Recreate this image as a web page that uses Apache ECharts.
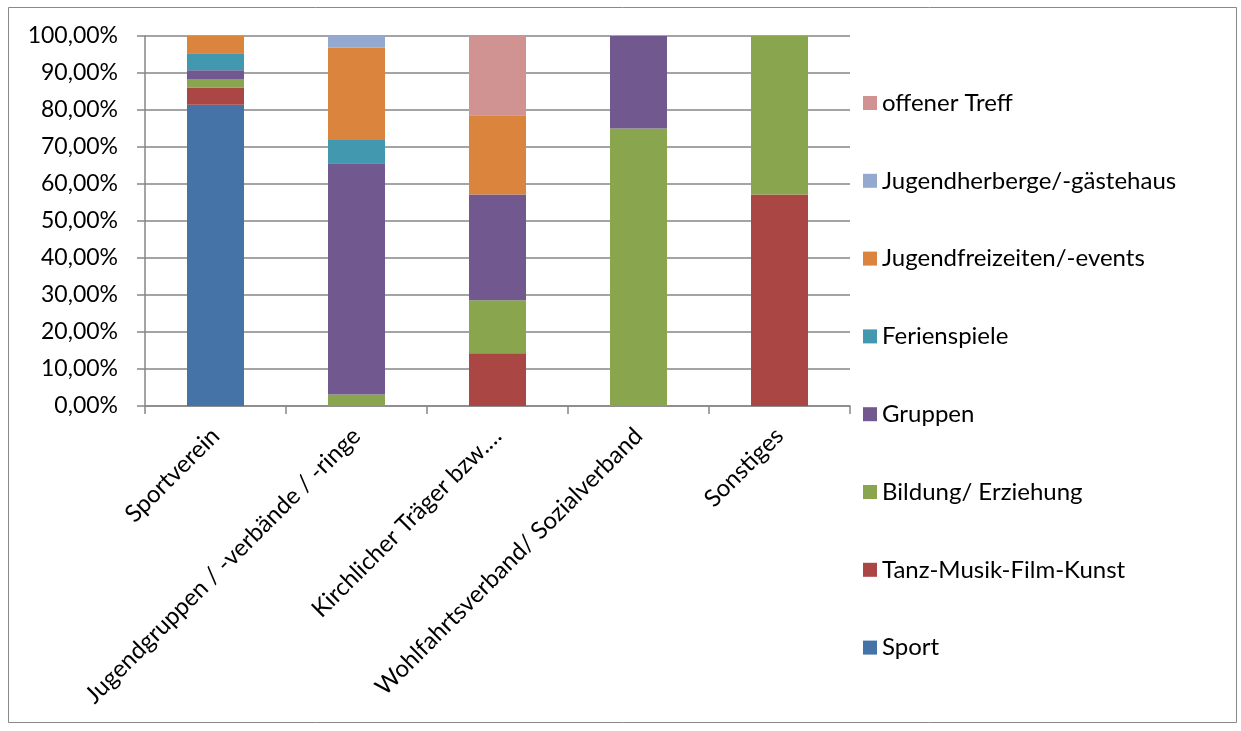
<!DOCTYPE html>
<html><head><meta charset="utf-8">
<script src="https://cdn.jsdelivr.net/npm/echarts@6/dist/echarts.min.js"></script>
<style>html,body{margin:0;padding:0;background:#fff}#c{width:1241px;height:731px}</style>
</head><body><div id="c"></div>
<script>
const categories = ["Sportverein", "Jugendgruppen / -verbände / -ringe", "Kirchlicher Träger bzw.…", "Wohlfahrtsverband/ Sozialverband", "Sonstiges"];
const sport = [81.40, 0, 0, 0, 0];
const tanzMusik = [4.65, 0, 14.29, 0, 57.14];
const bildung = [2.33, 3.125, 14.29, 75.0, 42.86];
const gruppen = [2.33, 62.5, 28.57, 25.0, 0];
const ferienspiele = [4.65, 6.25, 0, 0, 0];
const jugendfreizeiten = [4.65, 25.0, 21.43, 0, 0];
const jugendherberge = [0, 3.125, 0, 0, 0];
const offenerTreff = [0, 0, 21.43, 0, 0];
const yTicks = [0, 10, 20, 30, 40, 50, 60, 70, 80, 90, 100];

const seriesDefs = [
  ["Sport", sport, "#4572A7"],
  ["Tanz-Musik-Film-Kunst", tanzMusik, "#AA4643"],
  ["Bildung/ Erziehung", bildung, "#89A54E"],
  ["Gruppen", gruppen, "#71588F"],
  ["Ferienspiele", ferienspiele, "#4198AF"],
  ["Jugendfreizeiten/-events", jugendfreizeiten, "#DB843D"],
  ["Jugendherberge/-gästehaus", jugendherberge, "#93A9CF"],
  ["offener Treff", offenerTreff, "#D19392"]
];
const FONT = "Lato, 'Open Sans', sans-serif";
const chart = echarts.init(document.getElementById('c'));
chart.setOption({
  animation: false,
  backgroundColor: '#fff',
  graphic: [{type:'rect', shape:{x:8.5,y:7.5,width:1228,height:715}, style:{fill:'none', stroke:'#888', lineWidth:1}, silent:true}],
  grid: {left:145, right:391, top:36, bottom:325, containLabel:false},
  legend: {
    orient:'vertical', left:858, top:86, itemWidth:14, itemHeight:14, itemGap:53.8,
    icon:'rect',
    data: seriesDefs.map(s=>s[0]).reverse(),
    textStyle:{fontFamily:FONT, fontSize:24, lineHeight:24, color:'#000'}
  },
  xAxis: {
    type:'category', data:categories,
    axisLine:{lineStyle:{color:'#868686', width:1.5}},
    axisTick:{show:true, length:8, alignWithLabel:false, lineStyle:{color:'#868686', width:1.5}},
    axisLabel:{rotate:45, fontFamily:FONT, fontSize:24, color:'#000', margin:26, interval:0}
  },
  yAxis: {
    type:'value', min:0, max:100, interval:10,
    axisLine:{show:true, lineStyle:{color:'#868686', width:1.5}},
    axisTick:{show:true, length:8, lineStyle:{color:'#868686', width:1.5}},
    splitLine:{lineStyle:{color:'#868686', width:1.5}},
    axisLabel:{fontFamily:FONT, fontSize:23, color:'#000', margin:27,
      formatter: v => yTicks.includes(v) ? v.toFixed(2).replace('.', ',') + '%' : ''}
  },
  series: seriesDefs.map(([name, data, color]) => ({
    name, type:'bar', stack:'total', data, barWidth:57,
    itemStyle:{color}
  }))
});
</script></body></html>
